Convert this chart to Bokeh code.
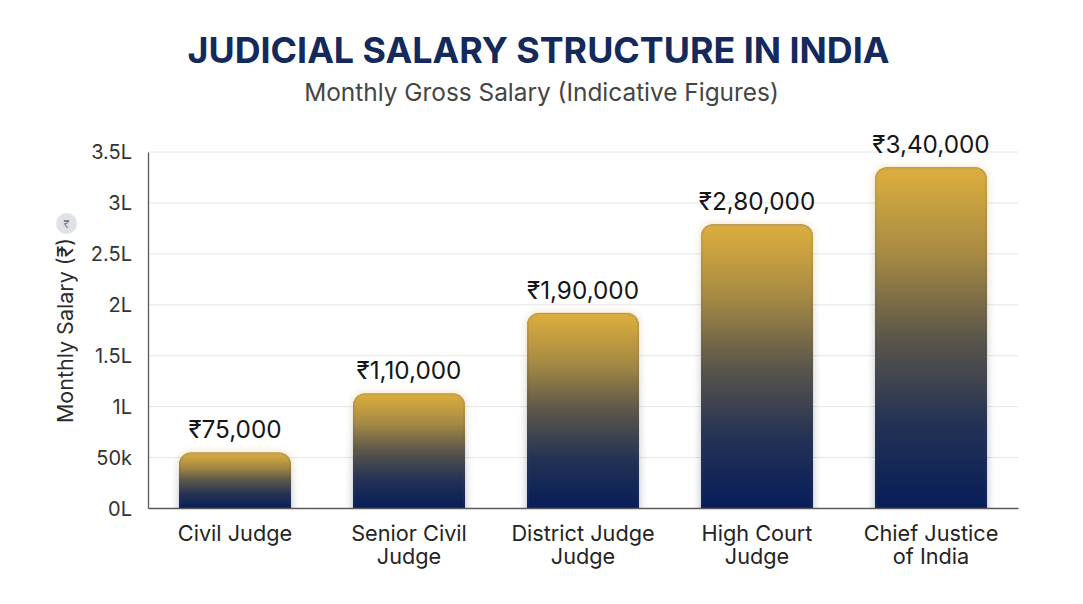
import numpy as np
from bokeh.plotting import figure
from bokeh.core.properties import value
from bokeh.models import (ColumnDataSource, FixedTicker, Label, LabelSet, Range1d)
from bokeh.embed import file_html
from bokeh.resources import INLINE

categories = ["Civil Judge", "Senior Civil\nJudge", "District Judge\nJudge", "High Court\nJudge", "Chief Justice\nof India"]
bar_heights = [55000, 113000, 192000, 279000, 335000]
bar_labels = ["₹75,000", "₹1,10,000", "₹1,90,000", "₹2,80,000", "₹3,40,000"]
y_ticks = [0, 50000, 100000, 150000, 200000, 250000, 300000, 350000]
y_tick_labels = ["0L", "50k", "1L", "1.5L", "2L", "2.5L", "3L", "3.5L"]

FONT = "Inter"
NAVY = "#14295c"
W, H = 1067, 588
AX_L, AX_R, AX_T, AX_B = 147.5, 1017.5, 151.5, 508
BAR_W = 0.644
Y_MAX = 350000
N = len(categories)
px_x = (AX_R - AX_L) / N
px_y = (AX_B - AX_T) / Y_MAX
xs = [i + 0.5 for i in range(N)]

p = figure(width=W, height=H,
           x_range=Range1d(-AX_L / px_x, N + (W - AX_R) / px_x),
           y_range=Range1d(-(H - AX_B) / px_y, Y_MAX + AX_T / px_y),
           output_backend="svg", toolbar_location=None,
           min_border_left=0, min_border_right=0, min_border_top=0, min_border_bottom=0)
p.outline_line_color = None
p.background_fill_color = "#ffffff"
p.border_fill_color = "#ffffff"
p.xgrid.visible = False
p.ygrid.visible = False
p.segment(x0=[0] * len(y_ticks), x1=[N] * len(y_ticks), y0=y_ticks, y1=y_ticks,
          line_color="#e6e6e6", line_width=1)

p.yaxis.fixed_location = 0
p.xaxis.fixed_location = 0
p.yaxis.bounds = (0, Y_MAX)
p.xaxis.bounds = (0, N)
p.yaxis.ticker = FixedTicker(ticks=y_ticks)
p.yaxis.major_label_overrides = dict(zip(y_ticks, y_tick_labels))
p.xaxis.ticker = FixedTicker(ticks=xs)
p.xaxis.major_label_overrides = dict(zip(xs, categories))
for ax in (p.xaxis[0], p.yaxis[0]):
    ax.major_tick_line_color = None
    ax.minor_tick_line_color = None
    ax.axis_line_color = "#5a5a5a"
    ax.axis_line_width = 1.3
    ax.major_label_text_font = FONT
ax = p.yaxis[0]
ax.major_label_text_font_size = "20px"
ax.major_label_text_color = "#333333"
ax.major_label_standoff = 10
ax.axis_label = "Monthly Salary (₹)"
ax.axis_label_text_font = FONT
ax.axis_label_text_font_style = "normal"
ax.axis_label_text_font_size = "21.5px"
ax.axis_label_text_color = "#2b2b2b"
ax.axis_label_standoff = 10
ax = p.xaxis[0]
ax.major_label_text_font_size = "21.7px"
ax.major_label_text_color = "#242424"
ax.major_label_standoff = 5
ax.major_label_text_line_height = 0.92

src = ColumnDataSource(dict(x=xs, top=bar_heights, label=bar_labels))
p.vbar(x="x", top="top", bottom=0, width=BAR_W, source=src, fill_color="#6f6a62",
       line_color=None, border_radius=(12, 12, 0, 0))

STOP_T = [0, 0.25, 0.5, 0.75, 1]
STOP_R = [8, 36, 92, 168, 222]
STOP_G = [30, 50, 87, 140, 175]
STOP_B = [90, 85, 75, 68, 62]
for xc, v in zip(xs, bar_heights):
    bw, bh = BAR_W * px_x, v * px_y
    m, r = 10, 12
    nx, ny = int(round(bw + 2 * m)), int(round(bh + m))
    X, Y = np.meshgrid(np.arange(nx) + 0.5 - nx / 2.0, np.arange(ny) + 0.5)
    dx = np.abs(X) - (bw / 2 - r)
    dy = Y - (bh - r)
    top = np.hypot(np.maximum(dx, 0), np.maximum(dy, 0)) + np.minimum(np.maximum(dx, dy), 0) - r
    side = np.abs(X) - bw / 2
    d = np.where(Y > bh - r, top, np.maximum(side, Y - bh))
    t = np.clip(Y / bh, 0, 1)
    col = np.dstack([np.interp(t, STOP_T, s) for s in (STOP_R, STOP_G, STOP_B)])
    col = np.where((d[..., None] > -2.0), col * 0.9 + 8, col)
    inside = np.clip(0.5 - d, 0, 1)
    glow = 0.22 * np.clip(1 - d / m, 0, 1) ** 2
    alpha = np.maximum(inside, glow)
    gcol = col + (255 - col) * 0.25
    rgb = col * inside[..., None] + gcol * (1 - inside[..., None])
    img = np.zeros((ny, nx), dtype=np.uint32)
    view = img.view(dtype=np.uint8).reshape((ny, nx, 4))
    view[..., :3] = np.clip(rgb, 0, 255).astype(np.uint8)
    view[..., 3] = (alpha * 255).astype(np.uint8)
    p.image_rgba(image=[img], x=xc - nx / 2.0 / px_x, y=0, dw=nx / px_x, dh=ny / px_y)

p.add_layout(LabelSet(x="x", y="top", text="label", source=src, text_align="center",
                      text_baseline="alphabetic", y_offset=14, text_font=value(FONT),
                      text_font_size="24.3px", text_color="#161616", level="overlay"))

def at(px, py):
    """data position of a picture position, for text outside the axes"""
    return dict(x=(px - AX_L) / px_x, y=(AX_B - py) / px_y)

p.add_layout(Label(**at(538, 49), text="JUDICIAL SALARY STRUCTURE IN INDIA", level="overlay",
                   text_font=FONT, text_font_style="bold", text_font_size="35.8px",
                   text_color=NAVY, text_align="center", text_baseline="middle"))
p.add_layout(Label(**at(541, 91), text="Monthly Gross Salary (Indicative Figures)", level="overlay",
                   text_font=FONT, text_font_size="24.4px", text_color="#454545",
                   text_align="center", text_baseline="middle"))
icon = at(66, 223)
p.scatter(x=[icon["x"]], y=[icon["y"]], size=21, marker="circle", fill_color="#dfe3e8",
          line_color="#eef0f2", line_width=1)
p.add_layout(Label(**icon, text="₹", level="overlay",
                   text_font=FONT, text_font_size="11px",
                   text_color="#7d7d7d", text_align="center", text_baseline="middle"))

open("out.html", "w").write(file_html(p, INLINE))
